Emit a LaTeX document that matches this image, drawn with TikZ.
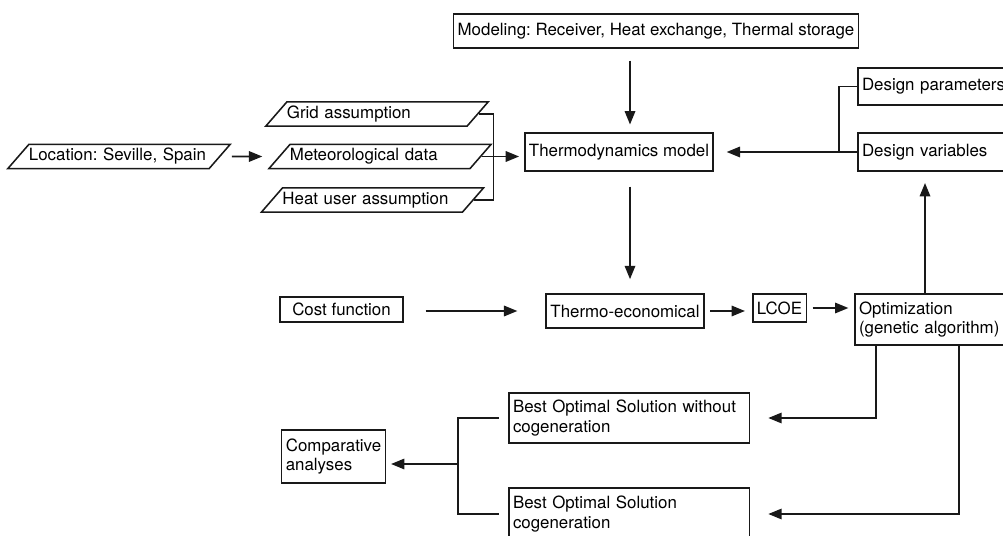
\documentclass[tikz,border=0pt]{standalone}
\usepackage{fontspec}
\setmainfont{TeX Gyre Heros}
\frenchspacing
\usepackage{tikz}
\usetikzlibrary{shapes.geometric}
\usetikzlibrary{arrows,arrows.meta}
\usetikzlibrary{calc}
\definecolor{strich}{RGB}{25,25,25}

\tikzset{
    kasten/.style={draw=strich, line width=1.1pt, rectangle, inner xsep=3pt, inner ysep=2pt, font=\fontsize{12}{14}\selectfont, align=left},
    schraeg/.style={draw=strich, line width=1.1pt, trapezium, trapezium left angle=49, trapezium right angle=131, text width=4.5cm, inner xsep=0pt, inner ysep=2.9pt, font=\fontsize{12}{14}\selectfont, align=left},
    pfeil/.style={draw=strich, line width=1.1pt, -{Triangle[length=9.5pt,width=7.5pt]}},
    verb/.style={draw=strich, line width=1.1pt},
}

\begin{document}
\begin{tikzpicture}[x=0.025cm, y=-0.025cm]

    \useasboundingbox (0,0) rectangle (1003,536);

    % inputs
    \node[schraeg] (loc) at (119,156.5) {Location: Seville, Spain};
    \node[schraeg] (grid) at (377,114) {Grid assumption};
    \node[schraeg] (meteo) at (380,156.5) {Meteorological data};
    \node[schraeg] (heat) at (372.5,200) {Heat user assumption};

    \node[kasten, minimum height=0.85cm] (model) at (656,31) {Modeling: Receiver, Heat exchange, Thermal storage};
    \node[kasten, minimum height=0.95cm] (thermo) at (619,152) {Thermodynamics model};
    \node[kasten, anchor=west, text width=3.7cm, minimum height=0.925cm] (dparam) at (857,86.5) {Design parameters};
    \node[kasten, anchor=west, text width=3.7cm, minimum height=0.95cm] (dvar) at (857,152) {Design variables};

    % economy row
    \node[kasten, minimum width=3.075cm, minimum height=0.625cm] (cost) at (341.5,309.5) {Cost function};
    \node[kasten, minimum height=0.85cm] (eco) at (625,311) {Thermo-economical};
    \node[kasten, minimum height=0.7cm] (lcoe) at (779.5,308) {LCOE};
    \node[kasten, anchor=west, text width=3.7cm, minimum height=1.275cm] (optim) at (854,319.5) {Optimization\\(genetic algorithm)};

    % results
    \node[kasten, anchor=west, text width=5.8cm, minimum height=1.25cm] (best1) at (508,418) {Best Optimal Solution without\\cogeneration};
    \node[kasten, anchor=west, text width=5.8cm, minimum height=1.3cm] (best2) at (508,514) {Best Optimal Solution\\cogeneration};
    \node[kasten, minimum height=1.325cm] (comp) at (333.5,456.5) {Comparative\\analyses};

    \coordinate (achse) at (630,0);
    \coordinate (knoten) at (839,152);
    \coordinate (hoch) at (925,0);
    \coordinate (ab1) at (876,0);
    \coordinate (ab2) at (959,0);
    \coordinate (gabel) at (458,464);

    \draw[pfeil, shorten <=8pt, shorten >=11.5pt] (loc.east) -- (meteo.west);
    \draw[verb] (grid.east) -- ++(15,0) |- (heat.east);
    \draw[pfeil, shorten >=3.5pt] (meteo.east) -- (meteo.east -| thermo.west);

    \draw[pfeil, shorten <=8.5pt, shorten >=5.5pt] (achse |- model.south) -- (achse |- thermo.north);
    \draw[pfeil, shorten <=10.5pt, shorten >=10pt] (achse |- thermo.south) -- (achse |- eco.north);

    \draw[verb] (dparam.west) -| (knoten) -- (dvar.west);
    \draw[pfeil, shorten >=9pt] (knoten) -- (knoten -| thermo.east);

    \draw[pfeil, shorten <=15.5pt, shorten >=20pt] (eco.west -| cost.east) -- (eco.west);
    \draw[pfeil, shorten <=4pt, shorten >=5pt] (eco.east) -- (eco.east -| lcoe.west);
    \draw[pfeil, shorten <=4pt, shorten >=4pt] (lcoe.east) -- (lcoe.east -| optim.west);
    \draw[pfeil, shorten >=8pt] (hoch |- optim.north) -- (hoch |- dvar.south);

    \draw[pfeil, shorten >=13pt] (ab1 |- optim.south) |- (best1.east);
    \draw[pfeil, shorten >=13pt] (ab2 |- optim.south) |- (best2.east);

    \draw[verb, shorten <=6.5pt, shorten >=6.5pt] (best1.west) -| (gabel) |- (best2.west);
    \draw[pfeil, shorten >=3.5pt] (gabel) -- (gabel -| comp.east);

\end{tikzpicture}
\end{document}
